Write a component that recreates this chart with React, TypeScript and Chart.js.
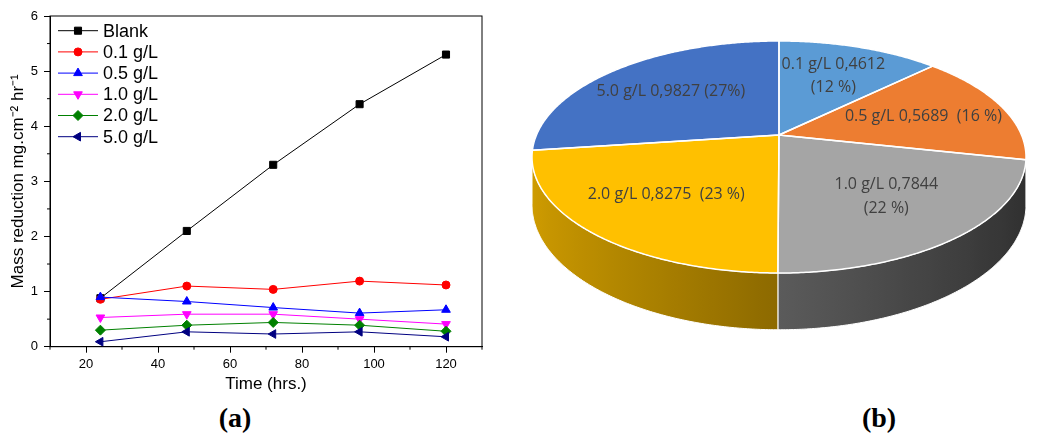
import { useEffect, useRef } from "react";
import { Chart, registerables, ChartConfiguration, Plugin } from "chart.js";
import { drawPoint } from "chart.js/helpers";

Chart.register(...registerables);

// (a) mass reduction against time
const hours = [24, 48, 72, 96, 120];
const seriesNames = ["Blank", "0.1 g/L", "0.5 g/L", "1.0 g/L", "2.0 g/L", "5.0 g/L"];
const blank = [0.88, 2.1, 3.3, 4.4, 5.3];
const conc01 = [0.86, 1.1, 1.04, 1.19, 1.12];
const conc05 = [0.9, 0.82, 0.71, 0.61, 0.67];
const conc10 = [0.53, 0.59, 0.59, 0.5, 0.41];
const conc20 = [0.3, 0.39, 0.44, 0.39, 0.28];
const conc50 = [0.09, 0.27, 0.23, 0.27, 0.18];
const xTicks = [20, 40, 60, 80, 100, 120];
const xMinorTicks = [10, 30, 50, 70, 90, 110, 130];
const yTicks = [0, 1, 2, 3, 4, 5, 6];
const yMinorTicks = [0.5, 1.5, 2.5, 3.5, 4.5, 5.5];

// (b) pie of the same concentrations
const pieCategories = ["0.1 g/L", "0.5 g/L", "1.0 g/L", "2.0 g/L", "5.0 g/L"];
const pieValues = [0.4612, 0.5689, 0.7844, 0.8275, 0.9827];
const pieLabels = [
  ["0.1 g/L 0,4612", "(12 %)"],
  ["0.5 g/L 0,5689  (16 %)"],
  ["1.0 g/L 0,7844", "(22 %)"],
  ["2.0 g/L 0,8275  (23 %)"],
  ["5.0 g/L 0,9827 (27%)"],
];

const seriesStyles = [
  { color: "#000000", pointStyle: "rect", radius: 5, rotation: 0 },
  { color: "#ff0000", pointStyle: "circle", radius: 4, rotation: 0 },
  { color: "#0000ff", pointStyle: "triangle", radius: 5, rotation: 0 },
  { color: "#ff00ff", pointStyle: "triangle", radius: 5, rotation: 180 },
  { color: "#008000", pointStyle: "rectRot", radius: 5, rotation: 0 },
  { color: "#000080", pointStyle: "triangle", radius: 5, rotation: 270 },
];
const pieColors = ["#5b9bd5", "#ed7d31", "#a5a5a5", "#ffc000", "#4472c4"];

const sans = "'Liberation Sans', Arial, sans-serif";

const frameAndMinorTicks: Plugin<"line"> = {
  id: "frameAndMinorTicks",
  beforeDatasetsDraw(chart) {
    const { ctx, chartArea, scales } = chart;
    ctx.save();
    ctx.strokeStyle = "#000";
    ctx.lineWidth = 1;
    ctx.strokeRect(chartArea.left, chartArea.top, chartArea.right - chartArea.left, chartArea.bottom - chartArea.top);
    ctx.beginPath();
    xMinorTicks.forEach((v) => {
      const x = scales.x.getPixelForValue(v);
      ctx.moveTo(x, chartArea.bottom);
      ctx.lineTo(x, chartArea.bottom + 3);
    });
    yMinorTicks.forEach((v) => {
      const y = scales.y.getPixelForValue(v);
      ctx.moveTo(chartArea.left, y);
      ctx.lineTo(chartArea.left - 3, y);
    });
    ctx.stroke();
    ctx.restore();
  },
};

const insetLegend: Plugin<"line"> = {
  id: "insetLegend",
  afterDatasetsDraw(chart) {
    const { ctx, chartArea } = chart;
    const x0 = chartArea.left + 8;
    const x1 = chartArea.left + 48;
    chart.data.datasets.forEach((ds: any, i) => {
      const y = chartArea.top + 14.7 + i * 21.2;
      ctx.save();
      ctx.strokeStyle = ds.borderColor;
      ctx.lineWidth = 1;
      ctx.beginPath();
      ctx.moveTo(x0, y);
      ctx.lineTo(x1, y);
      ctx.stroke();
      ctx.fillStyle = ds.pointBackgroundColor;
      ctx.strokeStyle = ds.pointBorderColor;
      drawPoint(ctx, { pointStyle: ds.pointStyle, rotation: ds.pointRotation, radius: ds.pointRadius, borderWidth: 1 }, (x0 + x1) / 2, y);
      ctx.fillStyle = "#000";
      ctx.font = `18px ${sans}`;
      ctx.textBaseline = "middle";
      ctx.fillText(ds.label, chartArea.left + 53, y + 1);
      ctx.restore();
    });
  },
};

function MassChart() {
  const canvasRef = useRef<HTMLCanvasElement>(null);
  const chartRef = useRef<Chart | null>(null);

  useEffect(() => {
    if (!canvasRef.current) return;
    if (chartRef.current) chartRef.current.destroy();

    const series = [blank, conc01, conc05, conc10, conc20, conc50];
    const config: ChartConfiguration<"line"> = {
      type: "line",
      data: {
        datasets: series.map((values, i) => {
          const st = seriesStyles[i];
          return {
            label: seriesNames[i],
            data: values.map((y, j) => ({ x: hours[j], y })),
            borderColor: st.color,
            backgroundColor: st.color,
            borderWidth: 1,
            pointStyle: st.pointStyle as any,
            pointRotation: st.rotation,
            pointRadius: st.radius,
            pointBackgroundColor: st.color,
            pointBorderColor: st.color,
            pointBorderWidth: 1,
            tension: 0,
            fill: false,
            order: -i,
          };
        }),
      },
      options: {
        animation: false,
        responsive: true,
        maintainAspectRatio: false,
        layout: { padding: { top: 16, right: 18, bottom: 0, left: 0 } },
        plugins: { legend: { display: false }, tooltip: { enabled: false } },
        scales: {
          x: {
            type: "linear",
            min: 10,
            max: 130,
            afterBuildTicks: (s) => { s.ticks = xTicks.map((value) => ({ value })); },
            afterFit: (s) => { s.height = 49.3; },
            grid: { drawOnChartArea: false, tickLength: 6, tickColor: "#000", color: "#000" },
            border: { color: "#000", width: 1 },
            ticks: { color: "#000", font: { size: 13, family: sans }, padding: 4, maxRotation: 0 },
            title: { display: true, text: "Time (hrs.)", color: "#000", font: { size: 17, family: sans }, padding: { top: 0, bottom: 1 } },
          },
          y: {
            type: "linear",
            min: 0,
            max: 6,
            afterBuildTicks: (s) => { s.ticks = yTicks.map((value) => ({ value })); },
            afterFit: (s) => { s.width = 50; },
            grid: { drawOnChartArea: false, tickLength: 6, tickColor: "#000", color: "#000" },
            border: { color: "#000", width: 1 },
            ticks: { color: "#000", font: { size: 13, family: sans }, padding: 6 },
            title: { display: true, text: "Mass reduction mg.cm\u207B\u00B2 hr\u207B\u00B9", color: "#000", font: { size: 17, family: sans }, padding: { top: 8, bottom: 0 } },
          },
        },
      },
      plugins: [frameAndMinorTicks, insetLegend],
    };

    chartRef.current = new Chart(canvasRef.current, config);
    return () => {
      if (chartRef.current) {
        chartRef.current.destroy();
        chartRef.current = null;
      }
    };
  }, []);

  return (
    <div style={{ position: "absolute", left: 0, top: 0, width: 500, height: 396 }}>
      <canvas ref={canvasRef} />
    </div>
  );
}

// perspective view of the pie disc, canvas coordinates
const VIEW = { cx: 269, cy: 157, rx: 247, ry: 116, lift: 22, depth: 46, labelAt: 0.64 };
const tilt = VIEW.lift / VIEW.ry;
const squeezeX = VIEW.rx * Math.sqrt(1 - tilt * tilt);

function project(f: number, a: number): [number, number] {
  const u = f * Math.cos(a);
  const v = f * Math.sin(a);
  const w = 1 - tilt * v;
  return [VIEW.cx + (squeezeX * u) / w, VIEW.cy + (VIEW.ry * v - VIEW.lift) / w];
}

function sideDepth(a: number) {
  return VIEW.depth / (1 - tilt * Math.sin(a));
}

function shade(hex: string, a: number) {
  const k = Math.max(0.2, Math.min(1, 0.55 - 0.27 * Math.cos(a)));
  const n = parseInt(hex.slice(1), 16);
  const r = Math.round(((n >> 16) & 255) * k);
  const g = Math.round(((n >> 8) & 255) * k);
  const b = Math.round((n & 255) * k);
  return `rgb(${r},${g},${b})`;
}

const pie3d: Plugin<"pie"> = {
  id: "pie3d",
  beforeDatasetsDraw(chart) {
    const { ctx } = chart;
    const arcs = chart.getDatasetMeta(0).data as any[];
    const frontStart = Math.asin(tilt);
    const frontEnd = Math.PI - frontStart;
    const step = Math.PI / 360;

    ctx.save();
    // side walls
    arcs.forEach((arc) => {
      const { startAngle, endAngle } = arc.getProps(["startAngle", "endAngle"]);
      const a0 = Math.max(startAngle, frontStart);
      const a1 = Math.min(endAngle, frontEnd);
      if (a1 <= a0) return;
      const base = arc.options.backgroundColor as string;
      const pts: [number, number][] = [];
      for (let a = a0; a < a1; a += step) pts.push(project(1, a));
      pts.push(project(1, a1));
      const xl = project(1, a1)[0];
      const xr = project(1, a0)[0];
      const grad = ctx.createLinearGradient(xl, 0, xr, 0);
      for (let i = 0; i <= 20; i++) {
        const a = a1 - ((a1 - a0) * i) / 20;
        const pos = (project(1, a)[0] - xl) / (xr - xl || 1);
        grad.addColorStop(Math.max(0, Math.min(1, pos)), shade(base, a));
      }
      ctx.beginPath();
      pts.forEach(([x, y], i) => (i ? ctx.lineTo(x, y) : ctx.moveTo(x, y)));
      for (let a = a1; a > a0; a -= step) {
        const [x, y] = project(1, a);
        ctx.lineTo(x, y + sideDepth(a));
      }
      const [xe, ye] = project(1, a0);
      ctx.lineTo(xe, ye + sideDepth(a0));
      ctx.closePath();
      ctx.fillStyle = grad;
      ctx.fill();
      ctx.strokeStyle = "#ffffff";
      ctx.lineWidth = 1;
      ctx.stroke();
    });

    // top face
    const paths = arcs.map((arc) => {
      const { startAngle, endAngle } = arc.getProps(["startAngle", "endAngle"]);
      const p = new Path2D();
      const [cx, cy] = project(0, 0);
      p.moveTo(cx, cy);
      for (let a = startAngle; a < endAngle; a += step) {
        const [x, y] = project(1, a);
        p.lineTo(x, y);
      }
      const [xe, ye] = project(1, endAngle);
      p.lineTo(xe, ye);
      p.closePath();
      ctx.fillStyle = arc.options.backgroundColor;
      ctx.fill(p);
      return { p, arc };
    });
    paths.forEach(({ p, arc }) => {
      ctx.strokeStyle = arc.options.borderColor;
      ctx.lineWidth = arc.options.borderWidth;
      ctx.lineJoin = "round";
      ctx.stroke(p);
    });
    ctx.restore();
    return false;
  },
  afterDraw(chart) {
    const { ctx } = chart;
    const arcs = chart.getDatasetMeta(0).data as any[];
    ctx.save();
    ctx.font = `16px 'Open Sans', 'Noto Sans', sans-serif`;
    ctx.fillStyle = "#404040";
    ctx.textAlign = "center";
    ctx.textBaseline = "middle";
    arcs.forEach((arc, i) => {
      const { startAngle, endAngle } = arc.getProps(["startAngle", "endAngle"]);
      const [x, y] = project(VIEW.labelAt, (startAngle + endAngle) / 2);
      const lines = pieLabels[i];
      lines.forEach((t, j) => ctx.fillText(t, x, y + (j - (lines.length - 1) / 2) * 23.5));
    });
    ctx.restore();
  },
};

function ShareChart() {
  const canvasRef = useRef<HTMLCanvasElement>(null);
  const chartRef = useRef<Chart | null>(null);

  useEffect(() => {
    if (!canvasRef.current) return;
    if (chartRef.current) chartRef.current.destroy();

    const config: ChartConfiguration<"pie"> = {
      type: "pie",
      data: {
        labels: pieCategories,
        datasets: [{ data: pieValues, backgroundColor: pieColors, borderColor: "#ffffff", borderWidth: 1.5 }],
      },
      options: {
        animation: false,
        responsive: true,
        maintainAspectRatio: false,
        plugins: { legend: { display: false }, tooltip: { enabled: false } },
      },
      plugins: [pie3d],
    };

    chartRef.current = new Chart(canvasRef.current, config);
    return () => {
      if (chartRef.current) {
        chartRef.current.destroy();
        chartRef.current = null;
      }
    };
  }, []);

  return (
    <div style={{ position: "absolute", left: 510, top: 0, width: 527, height: 380 }}>
      <canvas ref={canvasRef} />
    </div>
  );
}

const captionStyle = {
  position: "absolute" as const,
  top: 402,
  width: 100,
  textAlign: "center" as const,
  font: "bold 28px 'Liberation Serif', 'Times New Roman', serif",
  lineHeight: "32px",
  color: "#000",
};

export default function App() {
  return (
    <div style={{ position: "absolute", left: 0, top: 0, width: 1037, height: 434, background: "#fff", overflow: "hidden" }}>
      <MassChart />
      <ShareChart />
      <div style={{ ...captionStyle, left: 185 }}>(a)</div>
      <div style={{ ...captionStyle, left: 829 }}>(b)</div>
    </div>
  );
}
